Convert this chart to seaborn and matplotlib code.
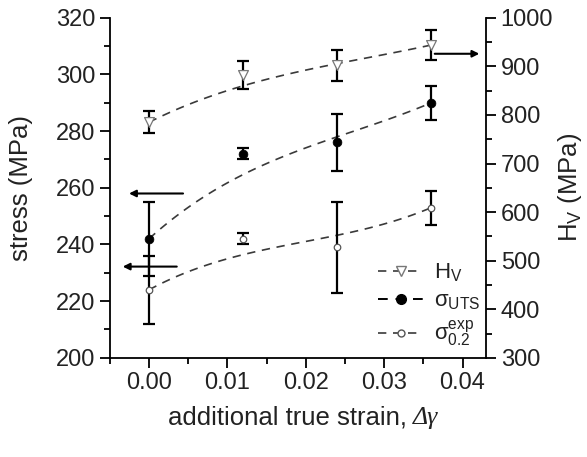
import math
import numpy as np
import pandas as pd
import matplotlib
matplotlib.use("Agg")
import matplotlib.pyplot as plt
from matplotlib.lines import Line2D
from matplotlib.ticker import MultipleLocator, FormatStrFormatter
import seaborn as sns

# data
strain = [0.0, 0.012, 0.024, 0.036]
hv = [785, 882, 902, 944]
hv_err = [23, 29, 32, 31]
uts = [242, 272, 276, 290]
uts_err = [13, 2, 10, 6]
ys = [224, 242, 239, 253]
ys_err = [12, 2, 16, 6]


def bezier(x, y, n=100):
    # smooth B-spline style connector through the end points
    t = np.linspace(0, 1, n)
    k = len(x) - 1
    bx = np.zeros(n)
    by = np.zeros(n)
    for i in range(k + 1):
        b = math.comb(k, i) * t**i * (1 - t)**(k - i)
        bx += b * x[i]
        by += b * y[i]
    return pd.DataFrame({"x": bx, "y": by})


sns.set_theme(style="ticks")
plt.rcParams["font.family"] = ["Liberation Sans", "DejaVu Sans"]
txt = "#222222"

fig, ax = plt.subplots(figsize=(5.87, 4.57), dpi=100)
fig.subplots_adjust(left=0.187, right=0.828, bottom=0.217, top=0.961)
ax2 = ax.twinx()

line_kw = dict(color="#3a3a3a", linewidth=1.2, dashes=(5, 4), legend=False)
err_kw = dict(fmt="none", ecolor="black", elinewidth=1.6, capsize=4, capthick=1.6)

# stress axis
for vals, errs in [(uts, uts_err), (ys, ys_err)]:
    sns.lineplot(data=bezier(strain, vals), x="x", y="y", ax=ax, sort=False, **line_kw)
    ax.errorbar(strain, vals, yerr=errs, zorder=3, **err_kw)
sns.scatterplot(x=strain, y=uts, ax=ax, marker="o", s=40, color="black",
                edgecolor="black", zorder=4)
sns.scatterplot(x=strain, y=ys, ax=ax, marker="o", s=22, color="white",
                edgecolor="#555555", linewidth=0.9, zorder=4)

# hardness axis
sns.lineplot(data=bezier(strain, hv), x="x", y="y", ax=ax2, sort=False, **line_kw)
ax2.errorbar(strain, hv, yerr=hv_err, zorder=3, **err_kw)
sns.scatterplot(x=strain, y=hv, ax=ax2, marker="v", s=50, color="white",
                edgecolor="#777777", linewidth=0.9, zorder=4)

ax.set_xlim(-0.005, 0.043)
ax.set_ylim(200, 320)
ax2.set_ylim(300, 1000)
ax.xaxis.set_major_locator(MultipleLocator(0.01))
ax.xaxis.set_minor_locator(MultipleLocator(0.005))
ax.yaxis.set_major_locator(MultipleLocator(20))
ax.yaxis.set_minor_locator(MultipleLocator(10))
ax2.yaxis.set_major_locator(MultipleLocator(100))
ax2.yaxis.set_minor_locator(MultipleLocator(50))
ax.xaxis.set_major_formatter(FormatStrFormatter("%.2f"))

for a in (ax, ax2):
    a.spines["top"].set_visible(False)
    for s in a.spines.values():
        s.set_linewidth(1.3)
        s.set_color("black")
    a.tick_params(which="major", length=7, width=1.3, labelsize=17, color="black",
                  labelcolor=txt)
    a.tick_params(which="minor", length=4, width=1.3, color="black")
ax.spines["right"].set_visible(False)
ax2.spines["left"].set_visible(False)
ax2.spines["bottom"].set_visible(False)

ax.set_xlabel("")
ax.set_ylabel("stress (MPa)", fontsize=18.5, labelpad=16, color=txt)
ax2.set_ylabel(r"$\mathregular{H_V}$ (MPa)", fontsize=18.5, labelpad=2, color=txt)
ax.text(0.79, -0.176, "additional true strain,", transform=ax.transAxes,
        ha="right", va="center", fontsize=18.5, color=txt)
ax.text(0.805, -0.176, "Δγ", transform=ax.transAxes, ha="left", va="center",
        fontsize=18.5, family="Liberation Serif", style="italic", color=txt)

# arrows pointing at the axes
arrow = dict(arrowstyle="-|>", color="black", lw=1.5, mutation_scale=10)
ax.annotate("", xy=(-0.0029, 258), xytext=(0.0047, 258), arrowprops=arrow)
ax.annotate("", xy=(-0.0037, 232.2), xytext=(0.0039, 232.2), arrowprops=arrow)
ax2.annotate("", xy=(0.0425, 926), xytext=(0.0361, 926), arrowprops=arrow)

handles = [
    Line2D([], [], color="#3a3a3a", lw=1.2, dashes=(5, 4), marker="v", ms=7,
           mfc="white", mec="#777777"),
    Line2D([], [], color="black", lw=1.4, dashes=(5, 4), marker="o", ms=7,
           mfc="black", mec="black"),
    Line2D([], [], color="#3a3a3a", lw=1.2, dashes=(5, 4), marker="o", ms=5,
           mfc="white", mec="#555555"),
]
labels = [r"$\mathregular{H_V}$", r"$\mathregular{\sigma_{UTS}}$",
          r"$\mathregular{\sigma^{exp}_{0.2}}$"]
leg = ax2.legend(handles, labels, loc="upper left", bbox_to_anchor=(0.69, 0.31),
                 frameon=False, fontsize=16, handlelength=2.0, handletextpad=0.5,
                 labelspacing=0.3, borderaxespad=0)
for t in leg.get_texts():
    t.set_color(txt)

fig.savefig("out.png", dpi=100)
